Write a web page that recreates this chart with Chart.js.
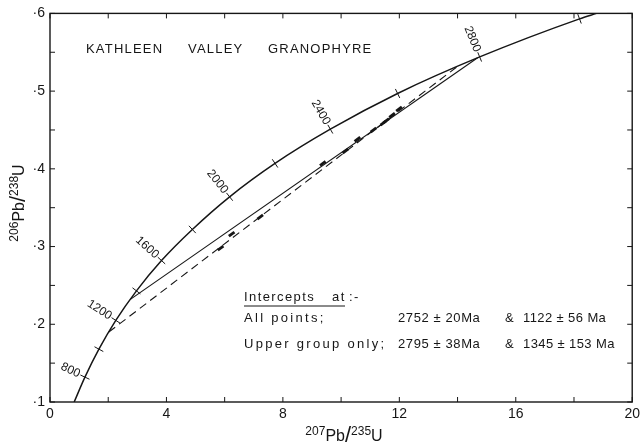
<!DOCTYPE html>
<html>
<head>
<meta charset="utf-8">
<script src="https://cdn.jsdelivr.net/npm/chart.js@4/dist/chart.umd.min.js"></script>
<style>
  html, body { margin: 0; padding: 0; background: #fff; }
  #wrap { width: 644px; height: 446px; position: relative; }
</style>
</head>
<body>
<div id="wrap"><canvas id="concordia"></canvas></div>
<script>
// concordia curve (age in Ma, '' = curve end)
const concordiaAge = ['', 800, 1000, 1200, 1400, 1600, 1800, 2000, 2200, 2400, 2600, 2800, 3000, ''];
const concordiaX = [0.83, 1.20, 1.68, 2.26, 2.97, 3.83, 4.89, 6.17, 7.73, 9.63, 11.94, 14.76, 18.19, 18.77];
const concordiaY = [0.100, 0.132, 0.168, 0.205, 0.243, 0.282, 0.322, 0.364, 0.407, 0.451, 0.497, 0.544, 0.593, 0.600];
const labelledAges = [800, 1200, 1600, 2000, 2400, 2800];

// discordia lines (lower and upper intercepts)
const upperGroupX = [2.76, 14.69];
const upperGroupY = [0.232, 0.543];
const allPointsX = [2.02, 14.04];
const allPointsY = [0.190, 0.533];

// analyses
const sampleX = [5.86, 6.24, 7.22, 9.37, 10.15, 10.56, 11.11, 11.45, 11.55, 11.75, 11.99];
const sampleY = [0.298, 0.316, 0.338, 0.407, 0.423, 0.438, 0.450, 0.459, 0.462, 0.469, 0.477];

const title = ['KATHLEEN', 'VALLEY', 'GRANOPHYRE'];
const interceptRows = [
  ['All points;', '2752 ± 20Ma', '&', '1122 ± 56 Ma'],
  ['Upper group only;', '2795 ± 38Ma', '&', '1345 ± 153 Ma']
];

const ink = '#161616';
const FONT = '"Liberation Sans", Arial, sans-serif';

function toXY(xs, ys) {
  return xs.map((x, i) => ({ x: x, y: ys[i] }));
}

// draw a ratio like 207Pb/235U with superscripts, centred on cx
function drawRatio(ctx, parts, cx, cy) {
  let total = 0;
  parts.forEach(p => { ctx.font = p.size + 'px ' + FONT; p.w = ctx.measureText(p.t).width; total += p.w; });
  let x = cx - total / 2;
  ctx.textAlign = 'left';
  ctx.textBaseline = 'alphabetic';
  parts.forEach(p => {
    ctx.font = p.size + 'px ' + FONT;
    ctx.fillText(p.t, x, cy + p.dy);
    x += p.w;
  });
}

const decor = {
  id: 'decor',
  afterDraw(chart) {
    const ctx = chart.ctx;
    const xs = chart.scales.x, ys = chart.scales.y;
    const a = chart.chartArea;
    ctx.save();
    ctx.strokeStyle = ink;
    ctx.fillStyle = ink;

    // frame
    ctx.lineWidth = 1.4;
    ctx.strokeRect(a.left, a.top, a.right - a.left, a.bottom - a.top);

    // inward ticks on all four sides
    ctx.lineWidth = 1;
    ctx.beginPath();
    xs.ticks.forEach(t => {
      const px = xs.getPixelForValue(t.value);
      ctx.moveTo(px, a.bottom); ctx.lineTo(px, a.bottom - 5);
      ctx.moveTo(px, a.top); ctx.lineTo(px, a.top + 5);
    });
    ys.ticks.forEach(t => {
      const py = ys.getPixelForValue(t.value);
      ctx.moveTo(a.left, py); ctx.lineTo(a.left + 5, py);
      ctx.moveTo(a.right, py); ctx.lineTo(a.right - 5, py);
    });
    ctx.stroke();

    // age ticks and labels on the concordia
    const pts = concordiaX.map((x, i) => ({ x: xs.getPixelForValue(x), y: ys.getPixelForValue(concordiaY[i]) }));
    ctx.font = '12px ' + FONT;
    for (let i = 1; i < pts.length - 1; i++) {
      const p = pts[i];
      let tx = pts[i + 1].x - pts[i - 1].x, ty = pts[i + 1].y - pts[i - 1].y;
      const len = Math.hypot(tx, ty); tx /= len; ty /= len;
      const nx = ty, ny = -tx;
      ctx.beginPath();
      ctx.moveTo(p.x - nx * 5, p.y - ny * 5);
      ctx.lineTo(p.x + nx * 5, p.y + ny * 5);
      ctx.stroke();
      if (labelledAges.includes(concordiaAge[i])) {
        ctx.save();
        ctx.translate(p.x, p.y);
        ctx.rotate(Math.atan2(tx, -ty));
        ctx.textAlign = 'right';
        ctx.textBaseline = 'middle';
        ctx.fillText(String(concordiaAge[i]), -6, 0);
        ctx.restore();
      }
    }

    // title
    ctx.font = '13px ' + FONT;
    ctx.letterSpacing = '1.2px';
    ctx.textAlign = 'left';
    ctx.textBaseline = 'middle';
    [86, 188, 268].forEach((x, i) => ctx.fillText(title[i], x, 49));

    // intercepts box
    ctx.letterSpacing = '1.4px';
    ctx.fillText('Intercepts', 244, 297);
    ctx.fillText('at', 332, 297);
    ctx.fillText(':-', 349, 297);
    ctx.lineWidth = 1;
    ctx.beginPath(); ctx.moveTo(244, 306); ctx.lineTo(345, 306); ctx.stroke();
    const rowY = [318, 344];
    const colX = [244, 398, 505, 523];
    const spacing = ['2.3px', '0.6px', '0px', '0.4px'];
    interceptRows.forEach((row, r) => {
      row.forEach((s, c) => {
        ctx.letterSpacing = spacing[c];
        ctx.fillText(s, colX[c], rowY[r]);
      });
    });
    ctx.letterSpacing = '0px';

    // axis titles
    drawRatio(ctx, [
      { t: '207', size: 12, dy: -6 }, { t: 'Pb', size: 16, dy: 0 },
      { t: '/', size: 22, dy: 1 }, { t: '235', size: 12, dy: -6 }, { t: 'U', size: 16, dy: 0 }
    ], 344, 441);
    ctx.save();
    ctx.translate(24, 203);
    ctx.rotate(-Math.PI / 2);
    drawRatio(ctx, [
      { t: '206', size: 12, dy: -6 }, { t: 'Pb', size: 16, dy: 0 },
      { t: '/', size: 22, dy: 1 }, { t: '238', size: 12, dy: -6 }, { t: 'U', size: 16, dy: 0 }
    ], 0, 0);
    ctx.restore();

    ctx.restore();
  }
};

new Chart(document.getElementById('concordia'), {
  type: 'scatter',
  data: {
    datasets: [
      {
        label: 'Concordia',
        data: toXY(concordiaX, concordiaY),
        showLine: true,
        borderColor: ink,
        borderWidth: 1.5,
        pointRadius: 0,
        cubicInterpolationMode: 'monotone'
      },
      {
        label: 'Upper group only',
        data: toXY(upperGroupX, upperGroupY),
        showLine: true,
        borderColor: ink,
        borderWidth: 1.1,
        pointRadius: 0
      },
      {
        label: 'All points',
        data: toXY(allPointsX, allPointsY),
        showLine: true,
        borderColor: ink,
        borderWidth: 1.1,
        borderDash: [8, 5],
        pointRadius: 0
      },
      {
        label: 'Analyses',
        data: toXY(sampleX, sampleY),
        showLine: false,
        pointStyle: 'line',
        pointRadius: 3.5,
        rotation: -37,
        borderColor: ink,
        borderWidth: 2.8
      }
    ]
  },
  options: {
    responsive: true,
    maintainAspectRatio: false,
    animation: false,
    layout: { padding: { top: 13, right: 7, left: 0, bottom: 0 } },
    plugins: { legend: { display: false }, tooltip: { enabled: false } },
    scales: {
      x: {
        type: 'linear',
        min: 0, max: 20,
        afterFit: s => { s.height = 44; },
        border: { display: false },
        grid: { drawOnChartArea: false, drawTicks: false },
        ticks: {
          stepSize: 2,
          autoSkip: false,
          maxRotation: 0,
          padding: 4,
          color: ink,
          font: { family: FONT, size: 14 },
          callback: v => (v % 4 === 0 ? String(v) : '')
        }
      },
      y: {
        type: 'linear',
        min: 0.1, max: 0.6,
        afterFit: s => { s.width = 50; },
        border: { display: false },
        grid: { drawOnChartArea: false, drawTicks: false },
        ticks: {
          stepSize: 0.05,
          autoSkip: false,
          padding: 5,
          color: ink,
          font: { family: FONT, size: 14 },
          callback: v => {
            const t = v * 10;
            return Math.abs(t - Math.round(t)) < 1e-6 ? '·' + Math.round(t) : '';
          }
        }
      }
    }
  },
  plugins: [decor]
});
</script>
</body>
</html>
